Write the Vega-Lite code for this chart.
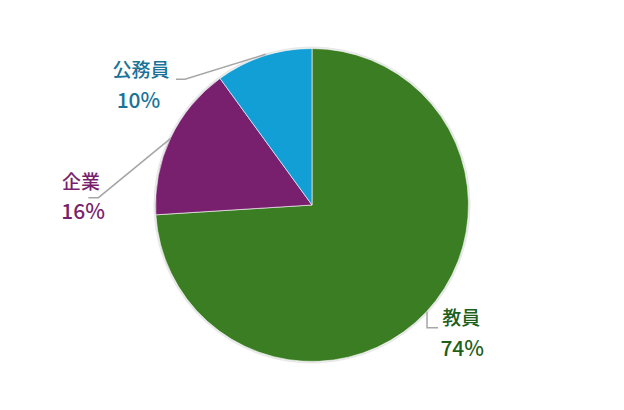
{
  "$schema": "https://vega.github.io/schema/vega-lite/v6.json",
  "width": 624,
  "height": 410,
  "padding": 0,
  "autosize": {"type": "fit", "contains": "padding"},
  "background": "#ffffff",
  "config": {"view": {"stroke": null}},
  "datasets": {
    "main": [
      {"職業": "教員", "割合": 74, "順": 1},
      {"職業": "企業", "割合": 16, "順": 2},
      {"職業": "公務員", "割合": 10, "順": 3}
    ],
    "leaders": [
      {"職業": "公務員", "k": 0, "x": -86.9, "y": 80.3},
      {"職業": "公務員", "k": 1, "x": -81.2, "y": 80.3},
      {"職業": "公務員", "k": 2, "x": -29.6, "y": 96.3},
      {"職業": "企業", "k": 0, "x": -142.9, "y": 4.7},
      {"職業": "企業", "k": 1, "x": -136.5, "y": 4.7},
      {"職業": "企業", "k": 2, "x": -90.3, "y": 42.6},
      {"職業": "教員", "k": 0, "x": 73.5, "y": -68.1},
      {"職業": "教員", "k": 1, "x": 73.5, "y": -78.4},
      {"職業": "教員", "k": 2, "x": 80.5, "y": -78.4}
    ],
    "names": [
      {"職業": "公務員", "x": -109.3, "y": 85.9},
      {"職業": "企業", "x": -147.6, "y": 13.9},
      {"職業": "教員", "x": 95.4, "y": -72.8}
    ],
    "pcts": [
      {"職業": "公務員", "label": "10%", "x": -110.9, "y": 65.9},
      {"職業": "企業", "label": "16%", "x": -146.3, "y": -5.4},
      {"職業": "教員", "label": "74%", "x": 96.0, "y": -92.5}
    ]
  },
  "layer": [
    {
      "data": {"name": "main"},
      "mark": {"type": "arc", "outerRadius": 158.5, "color": "#e8e8e8"},
      "encoding": {
        "theta": {"field": "割合", "type": "quantitative"},
        "order": {"field": "順", "type": "quantitative"}
      }
    },
    {
      "data": {"name": "main"},
      "mark": {"type": "arc", "outerRadius": 156.5, "stroke": "#ffffff", "strokeWidth": 0.6},
      "encoding": {
        "theta": {"field": "割合", "type": "quantitative"},
        "order": {"field": "順", "type": "quantitative"},
        "color": {
          "field": "職業",
          "type": "nominal",
          "scale": {"domain": ["教員", "企業", "公務員"], "range": ["#3b7d23", "#78206e", "#119fd6"]},
          "legend": null
        }
      }
    },
    {
      "data": {"name": "leaders"},
      "mark": {"type": "line", "color": "#a6a6a6", "strokeWidth": 1.5},
      "encoding": {
        "x": {"field": "x", "type": "quantitative", "scale": {"domain": [-199.4, 199.4], "nice": false, "zero": false}, "axis": null},
        "y": {"field": "y", "type": "quantitative", "scale": {"domain": [-131, 131], "nice": false, "zero": false}, "axis": null},
        "detail": {"field": "職業"},
        "order": {"field": "k", "type": "quantitative"}
      }
    },
    {
      "data": {"name": "names"},
      "mark": {"type": "text", "font": "Noto Sans CJK JP", "fontSize": 19, "fontWeight": 500, "baseline": "middle", "align": "center"},
      "encoding": {
        "x": {"field": "x", "type": "quantitative", "scale": {"domain": [-199.4, 199.4], "nice": false, "zero": false}, "axis": null},
        "y": {"field": "y", "type": "quantitative", "scale": {"domain": [-131, 131], "nice": false, "zero": false}, "axis": null},
        "text": {"field": "職業"},
        "color": {
          "field": "職業",
          "type": "nominal",
          "scale": {"domain": ["教員", "企業", "公務員"], "range": ["#1f5f1c", "#7a1f6e", "#1a7399"]},
          "legend": null
        }
      }
    },
    {
      "data": {"name": "pcts"},
      "mark": {"type": "text", "font": "Noto Sans CJK JP", "fontSize": 21, "fontWeight": 500, "baseline": "middle", "align": "center"},
      "encoding": {
        "x": {"field": "x", "type": "quantitative", "scale": {"domain": [-199.4, 199.4], "nice": false, "zero": false}, "axis": null},
        "y": {"field": "y", "type": "quantitative", "scale": {"domain": [-131, 131], "nice": false, "zero": false}, "axis": null},
        "text": {"field": "label"},
        "color": {
          "field": "職業",
          "type": "nominal",
          "scale": {"domain": ["教員", "企業", "公務員"], "range": ["#1f5f1c", "#7a1f6e", "#1a7399"]},
          "legend": null
        }
      }
    }
  ],
  "resolve": {"scale": {"color": "independent"}}
}
